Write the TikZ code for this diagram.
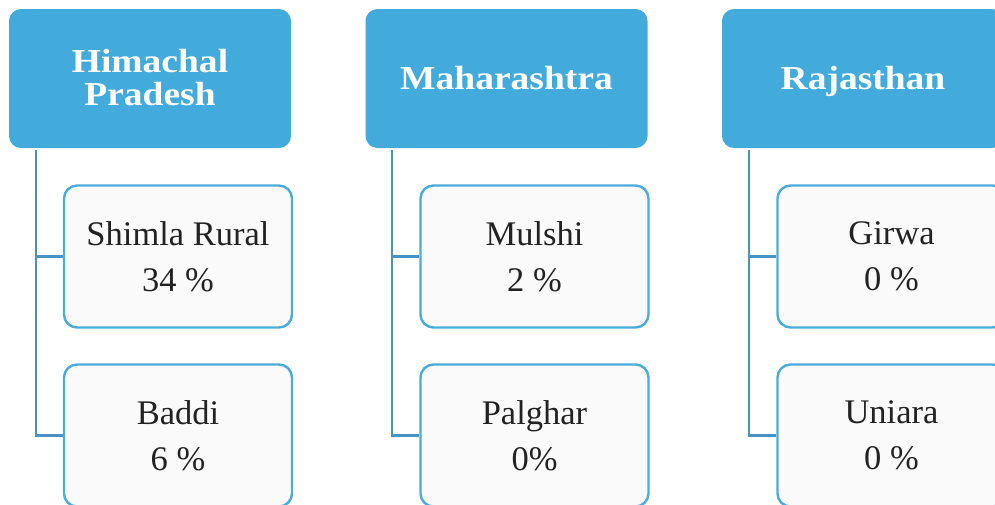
\documentclass[tikz,border=0pt]{standalone}
\usepackage{fontspec}
\setmainfont{Liberation Serif}
\newfontfamily\headfont[FakeStretch=1.12]{Liberation Serif}
\begin{document}
\begin{tikzpicture}[x=1pt,y=1pt,
  headbox/.style={rectangle, rounded corners=12pt, fill=headblue, draw=none,
    minimum width=282pt, minimum height=139pt, inner sep=0pt,
    text=white, align=center, font=\headfont\bfseries\fontsize{33.5}{31}\selectfont},
  oneline/.style={text height=22pt, text depth=0pt},
  leafbox/.style={rectangle, rounded corners=13pt, fill=leaffill, draw=leafline,
    line width=2.4pt, minimum width=228pt, minimum height=142pt, inner sep=0pt,
    text=leaftext, align=center, font=\fontsize{34.5}{46}\selectfont},
  conn/.style={draw=connblue, line width=2.6pt}]
\definecolor{headblue}{RGB}{67,171,219}
\definecolor{leaffill}{RGB}{250,250,250}
\definecolor{leafline}{RGB}{74,172,218}
\definecolor{leaftext}{RGB}{34,34,34}
\definecolor{connblue}{RGB}{72,146,196}
\useasboundingbox (0,0) rectangle (995,-504);

% state headers
\node[headbox] (hp) at (150,-78.5)
  {\raisebox{-3.5pt}[\height][\depth]{\begin{tabular}{@{}c@{}}Himachal\\Pradesh\end{tabular}}};
\node[headbox, oneline] (mh) at (506.5,-78.5) {Maharashtra};
\node[headbox, oneline] (rj) at (863,-78.5) {Rajasthan};

% district boxes
\node[leafbox] (shimla) at (178,-256.5) {Shimla Rural\\34 \%};
\node[leafbox] (baddi) at (178,-435.5) {Baddi\\6 \%};
\node[leafbox] (mulshi) at (534.5,-256.5) {Mulshi\\2 \%};
\node[leafbox] (palghar) at (534.5,-435.5) {Palghar\\0\%};
\node[leafbox] (girwa) at (891.5,-256.5) {Girwa\\0 \%};
\node[leafbox] (uniara) at (891.5,-435.5) {Uniara\\0 \%};

% trunk start points below each header
\coordinate (t1) at (36,-150);
\coordinate (t2) at (392,-150);
\coordinate (t3) at (749,-150);

% connectors
\draw[conn] (t1) |- (shimla.west);
\draw[conn] (t1) |- (baddi.west);
\draw[conn] (t2) |- (mulshi.west);
\draw[conn] (t2) |- (palghar.west);
\draw[conn] (t3) |- (girwa.west);
\draw[conn] (t3) |- (uniara.west);
\end{tikzpicture}
\end{document}
